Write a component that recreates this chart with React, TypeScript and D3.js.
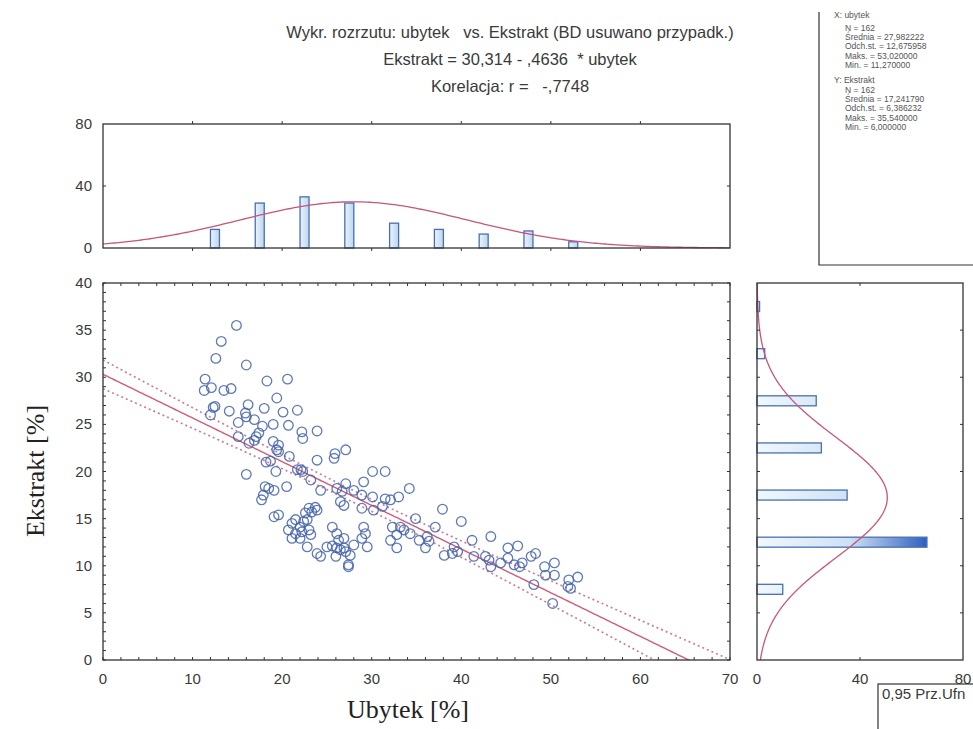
import React from "react";
import * as d3 from "d3";

// ---- data ----
const ubytek: number[] = [
  14.9, 13.2, 12.6, 16.0, 11.4, 18.3, 20.6, 11.3, 12.1, 13.5, 14.3, 19.4, 12.5, 12.3, 16.2, 12.0, 14.1, 18.0, 20.1, 21.7,
  15.9, 16.0, 15.1, 16.9, 17.8, 19.0, 20.7, 15.1, 17.4, 17.1, 16.3, 16.9, 19.0, 19.6, 19.4, 20.8, 18.2, 18.7, 16.0, 19.3,
  21.7, 22.2, 22.3, 23.9, 19.6, 23.9, 25.9, 25.8, 27.1, 22.1, 22.3, 23.2, 24.3, 26.1, 26.7, 27.1, 28.0, 29.1, 30.1, 28.9,
  30.1, 18.1, 18.5, 19.1, 20.5, 17.9, 17.7, 26.5, 26.9, 28.9, 30.2, 23.0, 23.7, 23.9, 19.1, 19.6, 22.6, 22.8, 23.3, 21.1,
  21.5, 22.0, 22.4, 20.7, 21.5, 22.2, 23.0, 23.2, 21.1, 22.0, 25.6, 26.1, 26.9, 26.3, 29.1, 29.3, 28.9, 29.5, 22.8, 23.9,
  24.3, 25.0, 25.6, 26.1, 26.5, 26.9, 27.1, 28.0, 27.6, 26.0, 27.4, 31.5, 31.5, 32.1, 33.0, 34.2, 31.2, 37.9, 34.9, 37.1,
  40.0, 32.3, 33.2, 33.6, 32.8, 34.3, 35.3, 36.2, 36.4, 32.1, 32.8, 36.0, 38.1, 39.2, 39.6, 39.0, 41.2, 43.3, 41.4, 42.7,
  43.1, 43.3, 44.4, 45.2, 46.3, 45.2, 45.9, 46.5, 46.8, 47.8, 48.3, 48.1, 49.3, 50.4, 49.4, 50.4, 50.2, 52.0, 53.0, 51.9,
  52.2, 27.4,
];
const ekstrakt: number[] = [
  35.5, 33.8, 32.0, 31.3, 29.8, 29.6, 29.8, 28.6, 28.9, 28.6, 28.8, 27.8, 26.9, 26.8, 27.1, 26.0, 26.4, 26.7, 26.3, 26.5,
  26.2, 25.8, 25.2, 25.5, 24.8, 25.0, 24.9, 23.7, 24.1, 23.7, 23.0, 23.3, 23.2, 22.8, 22.3, 21.6, 21.0, 21.1, 19.7, 20.0,
  20.2, 24.2, 23.5, 24.3, 22.1, 21.2, 21.9, 21.4, 22.3, 20.2, 20.0, 19.1, 18.0, 18.2, 17.9, 18.7, 18.0, 18.9, 20.0, 17.5,
  17.3, 18.4, 18.2, 18.0, 18.4, 17.5, 17.0, 16.8, 16.4, 16.1, 15.9, 16.1, 16.2, 15.9, 15.2, 15.4, 15.6, 14.9, 15.7, 14.5,
  14.9, 14.1, 14.7, 13.8, 13.4, 13.6, 13.8, 13.3, 12.9, 12.9, 14.1, 13.4, 12.9, 12.7, 14.1, 13.4, 12.9, 12.0, 12.0, 11.3,
  11.0, 12.0, 12.1, 11.9, 11.7, 11.9, 11.5, 12.2, 11.1, 11.0, 9.9, 20.0, 17.1, 17.0, 17.3, 18.2, 16.3, 16.0, 15.0, 14.1,
  14.7, 14.1, 14.1, 13.8, 13.3, 13.4, 12.7, 13.1, 12.6, 12.7, 11.9, 11.9, 11.1, 12.0, 11.5, 11.3, 12.7, 13.1, 11.0, 11.0,
  10.6, 9.9, 10.3, 11.9, 12.1, 10.8, 10.1, 9.9, 10.3, 11.0, 11.3, 8.0, 9.9, 10.3, 9.0, 9.0, 6.0, 8.5, 8.8, 7.8,
  7.6, 10.1,
];

// histogram of ubytek (bins of 5, midpoints) and of Ekstrakt
const ubytekBinMids = [12.5, 17.5, 22.5, 27.5, 32.5, 37.5, 42.5, 47.5, 52.5];
const ubytekCounts = [12, 29, 33, 29, 16, 12, 9, 11, 4];
const ekstraktBinMids = [7.5, 12.5, 17.5, 22.5, 27.5, 32.5, 37.5];
const ekstraktCounts = [10, 66, 35, 25, 23, 3, 1];

// statistics
const nObs = 162;
const meanX = 27.982222;
const sdX = 12.675958;
const meanY = 17.24179;
const sdY = 6.386232;
const corrR = -0.7748;
const intercept = 30.314;
const slope = -0.4636;
const tCrit = 1.975;
const topCurveArea = 947; // vertical scaling of fitted curve on top histogram
const rightCurveArea = 162 * 5;

const titleLines = [
  "Wykr. rozrzutu: ubytek   vs. Ekstrakt (BD usuwano przypadk.)",
  "Ekstrakt = 30,314 - ,4636  * ubytek",
  "Korelacja: r =   -,7748",
];
const statsX = ["N = 162", "Średnia = 27,982222", "Odch.st. = 12,675958", "Maks. = 53,020000", "Min. = 11,270000"];
const statsY = ["N = 162", "Średnia = 17,241790", "Odch.st. = 6,386232", "Maks. = 35,540000", "Min. = 6,000000"];

const mainXTicks = [0, 10, 20, 30, 40, 50, 60, 70];
const mainYTicks = [0, 5, 10, 15, 20, 25, 30, 35, 40];
const topYTicks = [0, 40, 80];
const rightXTicks = [0, 40, 80];

const SANS = "'Liberation Sans', Arial, sans-serif";
const SERIF = "'Liberation Serif', 'Times New Roman', serif";
const FRAME = "#333";
const TXT = "#3a3a3a";
const CURVE = "#c8557a";
const STAT_FS = 8.5;
const STAT_LH = 9.2;

function normal(v: number, m: number, s: number) {
  return Math.exp(-0.5 * ((v - m) / s) ** 2) / (s * Math.sqrt(2 * Math.PI));
}

export default function App() {
  // main scatter
  const M = { l: 103, r: 730, t: 283, b: 660 };
  const x = d3.scaleLinear().domain([0, 70]).range([M.l, M.r]);
  const y = d3.scaleLinear().domain([0, 40]).range([M.b, M.t]);
  // top histogram
  const T = { t: 124, b: 248 };
  const yTop = d3.scaleLinear().domain([0, 80]).range([T.b, T.t]);
  // right histogram
  const R = { l: 757, r: 963 };
  const xRight = d3.scaleLinear().domain([0, 80]).range([R.l, R.r]);

  const grid = d3.range(0, 70.01, 0.25);
  const gridY = d3.range(0, 40.01, 0.2);

  const se = sdY * Math.sqrt(((1 - corrR * corrR) * (nObs - 1)) / (nObs - 2));
  const sxx = (nObs - 1) * sdX * sdX;
  const band = (v: number) => tCrit * se * Math.sqrt(1 / nObs + (v - meanX) ** 2 / sxx);
  const fit = (v: number) => intercept + slope * v;

  const regPath = d3.line<number>().x((v) => x(v)).y((v) => y(fit(v)))(grid) || "";
  const upPath = d3.line<number>().x((v) => x(v)).y((v) => y(fit(v) + band(v)))(grid) || "";
  const loPath = d3.line<number>().x((v) => x(v)).y((v) => y(fit(v) - band(v)))(grid) || "";

  const topCurve =
    d3.line<number>().x((v) => x(v)).y((v) => yTop(topCurveArea * normal(v, meanX, sdX)))(grid) || "";
  const rightCurve =
    d3.line<number>().x((v) => xRight(rightCurveArea * normal(v, meanY, sdY))).y((v) => y(v))(gridY) || "";

  const maxRight = d3.max(ekstraktCounts) || 1;

  const minorX = d3.range(0, 70.01, 2);
  const minorY = d3.range(0, 40.01, 1);

  return (
    <div style={{ position: "absolute", left: 0, top: 0 }}>
      <svg width={973} height={729} viewBox="0 0 973 729" style={{ display: "block", background: "#fff" }}>
        <defs>
          <clipPath id="mainClip">
            <rect x={M.l} y={M.t} width={M.r - M.l} height={M.b - M.t} />
          </clipPath>
          <linearGradient
            id="rightGrad"
            gradientUnits="userSpaceOnUse"
            x1={xRight(0)}
            x2={xRight(maxRight)}
            y1={0}
            y2={0}
          >
            <stop offset="0" stopColor="#f1f8fe" />
            <stop offset="0.55" stopColor="#cde1f5" />
            <stop offset="1" stopColor="#2f5fbf" />
          </linearGradient>
          <linearGradient id="topGrad" x1="0" x2="1" y1="0" y2="0">
            <stop offset="0" stopColor="#eaf4fd" />
            <stop offset="1" stopColor="#bcd5f0" />
          </linearGradient>
        </defs>

        {/* Title */}
        {titleLines.map((s, i) => (
          <text
            key={i}
            x={510}
            y={38 + i * 27}
            textAnchor="middle"
            fontFamily={SANS}
            fontSize={16.5}
            fill={TXT}
            style={{ whiteSpace: "pre" }}
          >
            {s}
          </text>
        ))}

        {/* Stats box */}
        <path d="M819,12 V265 H980" fill="none" stroke={FRAME} strokeWidth={1.2} />
        <text x={834} y={18} fontFamily={SANS} fontSize={STAT_FS} fill="#555">X: ubytek</text>
        {statsX.map((s, i) => (
          <text key={"sx" + i} x={845} y={31 + i * STAT_LH} fontFamily={SANS} fontSize={STAT_FS} fill="#555">{s}</text>
        ))}
        <text x={834} y={83} fontFamily={SANS} fontSize={STAT_FS} fill="#555">Y: Ekstrakt</text>
        {statsY.map((s, i) => (
          <text key={"sy" + i} x={845} y={93 + i * STAT_LH} fontFamily={SANS} fontSize={STAT_FS} fill="#555">{s}</text>
        ))}

        {/* Top histogram */}
        {ubytekBinMids.map((m, i) => (
          <rect
            key={"tb" + i}
            x={x(m) - 4.5}
            y={yTop(ubytekCounts[i])}
            width={9}
            height={yTop(0) - yTop(ubytekCounts[i])}
            fill="url(#topGrad)"
            stroke="#4a6fb0"
            strokeWidth={1.3}
          />
        ))}
        <path d={topCurve} fill="none" stroke={CURVE} strokeWidth={1.3} />
        <rect x={M.l} y={T.t} width={M.r - M.l} height={T.b - T.t} fill="none" stroke={FRAME} strokeWidth={1.3} />
        {mainXTicks.slice(1, -1).map((t) => (
          <g key={"tt" + t}>
            <line x1={x(t)} x2={x(t)} y1={T.t} y2={T.t - 3} stroke={FRAME} />
            <line x1={x(t)} x2={x(t)} y1={T.b} y2={T.b + 3} stroke={FRAME} />
          </g>
        ))}
        <line x1={M.l} x2={M.l + 3} y1={yTop(40)} y2={yTop(40)} stroke={FRAME} />
        <line x1={M.r} x2={M.r - 3} y1={yTop(40)} y2={yTop(40)} stroke={FRAME} />
        {topYTicks.map((t) => (
          <text key={"ty" + t} x={92} y={yTop(t) + 5} textAnchor="end" fontFamily={SANS} fontSize={15} fill={TXT}>
            {t}
          </text>
        ))}

        {/* Main scatter */}
        <g clipPath="url(#mainClip)">
          <path d={upPath} fill="none" stroke="#c98095" strokeWidth={1.7} strokeDasharray="2 3" />
          <path d={loPath} fill="none" stroke="#c98095" strokeWidth={1.7} strokeDasharray="2 3" />
          <path d={regPath} fill="none" stroke="#d45a7a" strokeWidth={1.4} />
        </g>
        {ubytek.map((v, i) => (
          <circle
            key={"p" + i}
            cx={x(v)}
            cy={y(ekstrakt[i])}
            r={4.8}
            fill="none"
            stroke="#4363aa"
            strokeOpacity={0.85}
            strokeWidth={1.3}
          />
        ))}
        <rect x={M.l} y={M.t} width={M.r - M.l} height={M.b - M.t} fill="none" stroke={FRAME} strokeWidth={1.3} />
        {minorX.map((t) => (
          <g key={"mx" + t}>
            <line x1={x(t)} x2={x(t)} y1={M.b} y2={M.b - 3} stroke={FRAME} />
            <line x1={x(t)} x2={x(t)} y1={M.t} y2={M.t + 3} stroke={FRAME} />
          </g>
        ))}
        {minorY.map((t) => (
          <line key={"my" + t} x1={M.l} x2={M.l + 3} y1={y(t)} y2={y(t)} stroke={FRAME} />
        ))}
        {d3.range(0, 40.01, 2).map((t) => (
          <line key={"myr" + t} x1={M.r} x2={M.r - 3} y1={y(t)} y2={y(t)} stroke={FRAME} />
        ))}
        {mainXTicks.map((t) => (
          <text key={"xl" + t} x={x(t)} y={684} textAnchor="middle" fontFamily={SANS} fontSize={15} fill={TXT}>
            {t}
          </text>
        ))}
        {mainYTicks.map((t) => (
          <text key={"yl" + t} x={92} y={y(t) + 5} textAnchor="end" fontFamily={SANS} fontSize={15} fill={TXT}>
            {t}
          </text>
        ))}
        <text x={408} y={718} textAnchor="middle" fontFamily={SERIF} fontSize={26} fill="#222">
          Ubytek [%]
        </text>
        <text
          transform="translate(44,471) rotate(-90)"
          textAnchor="middle"
          fontFamily={SERIF}
          fontSize={26}
          fill="#222"
        >
          Ekstrakt [%]
        </text>

        {/* Right histogram */}
        {ekstraktBinMids.map((m, i) => (
          <rect
            key={"rb" + i}
            x={xRight(0)}
            y={y(m) - 5}
            width={xRight(ekstraktCounts[i]) - xRight(0)}
            height={10}
            fill="url(#rightGrad)"
            stroke="#4a6fb0"
            strokeWidth={1.3}
          />
        ))}
        <path d={rightCurve} fill="none" stroke={CURVE} strokeWidth={1.3} />
        <rect x={R.l} y={M.t} width={R.r - R.l} height={M.b - M.t} fill="none" stroke={FRAME} strokeWidth={1.3} />
        {d3.range(5, 40, 5).map((t) => (
          <g key={"rt" + t}>
            <line x1={R.l} x2={R.l + 3} y1={y(t)} y2={y(t)} stroke={FRAME} />
            <line x1={R.r} x2={R.r - 3} y1={y(t)} y2={y(t)} stroke={FRAME} />
          </g>
        ))}
        <line x1={xRight(40)} x2={xRight(40)} y1={M.t} y2={M.t + 3} stroke={FRAME} />
        <line x1={xRight(40)} x2={xRight(40)} y1={M.b} y2={M.b - 3} stroke={FRAME} />
        {rightXTicks.map((t) => (
          <text key={"rx" + t} x={xRight(t)} y={684} textAnchor="middle" fontFamily={SANS} fontSize={15} fill={TXT}>
            {t}
          </text>
        ))}

        {/* Legend box bottom right */}
        <rect x={878} y={684} width={120} height={80} fill="#fff" stroke={FRAME} strokeWidth={1.2} />
        <text x={882} y={699} fontFamily={SANS} fontSize={15} fill={TXT}>
          0,95 Prz.Ufn
        </text>
      </svg>
    </div>
  );
}
